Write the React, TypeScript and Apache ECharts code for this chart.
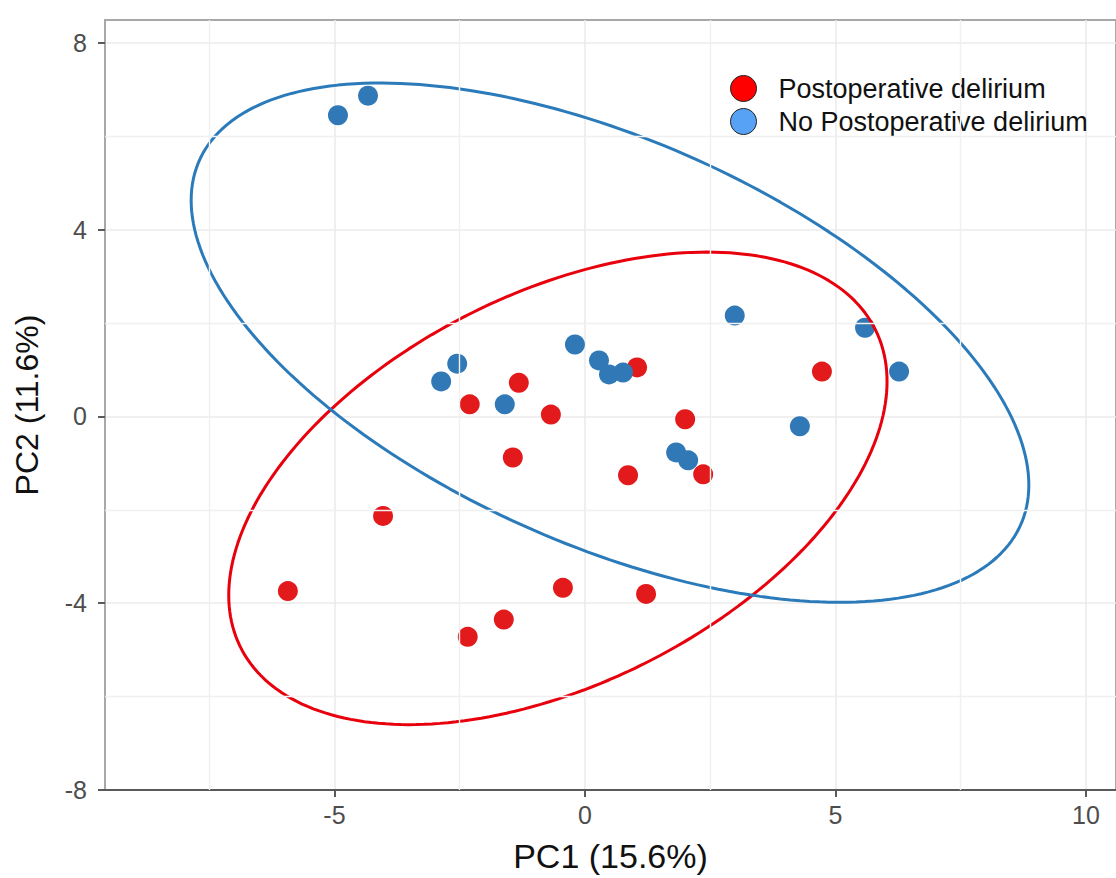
import React, { useEffect, useRef } from "react";
import * as echarts from "echarts";

// PCA scores
const podPoints: [number, number][] = [
  [1.04, 1.05], [-1.32, 0.72], [-2.3, 0.26], [-0.68, 0.04], [2.0, -0.06],
  [-1.44, -0.88], [0.86, -1.26], [2.36, -1.24], [-4.03, -2.13], [4.73, 0.96],
  [-5.93, -3.74], [-2.34, -4.72], [-1.62, -4.35], [-0.44, -3.67], [1.22, -3.8],
];
const noPodPoints: [number, number][] = [
  [-4.93, 6.45], [-4.33, 6.87], [-2.87, 0.75], [-2.55, 1.13], [-1.6, 0.26],
  [-0.2, 1.54], [0.28, 1.2], [0.48, 0.9], [0.76, 0.94], [2.99, 2.16],
  [5.59, 1.9], [6.27, 0.96], [4.29, -0.21], [1.82, -0.77], [2.06, -0.94],
];
const xTicks = [-5, 0, 5, 10];
const yTicks = [-8, -4, 0, 4, 8];
const xMinorGrid = [-7.5, -2.5, 2.5, 7.5];
const yMinorGrid = [-6, -2, 2, 6];
// confidence ellipses: centre, x half-extent, y half-extent, xy covariance term
const podEllipse = { cx: -0.54, cy: -1.54, sx: 6.57, sy: 5.06, sxy: 15.04 };
const noPodEllipse = { cx: 0.5, cy: 1.58, sx: 8.36, sy: 5.56, sxy: -25.48 };

const POD = "Postoperative delirium";
const NOPOD = "No Postoperative delirium";

function ellipsePath(e: { cx: number; cy: number; sx: number; sy: number; sxy: number }) {
  const l11 = e.sx;
  const l21 = e.sxy / e.sx;
  const l22 = Math.sqrt(e.sy * e.sy - l21 * l21);
  const pts: [number, number][] = [];
  const n = 240;
  for (let i = 0; i <= n; i++) {
    const t = (i / n) * Math.PI * 2;
    pts.push([e.cx + l11 * Math.cos(t), e.cy + l21 * Math.cos(t) + l22 * Math.sin(t)]);
  }
  return pts;
}

const FONT = "'Liberation Sans', Arial, Helvetica, sans-serif";

export default function App() {
  const ref = useRef<HTMLDivElement>(null);
  useEffect(() => {
    if (!ref.current) return;
    const chart = echarts.init(ref.current, null, { renderer: "svg" });
    const minorLines = [
      ...xMinorGrid.map((v) => ({ xAxis: v })),
      ...yMinorGrid.map((v) => ({ yAxis: v })),
    ];
    chart.setOption({
      animation: false,
      backgroundColor: "#ffffff",
      textStyle: { fontFamily: FONT },
      grid: {
        left: 105,
        top: 20,
        right: 0,
        bottom: 85,
        show: true,
        borderColor: "#a8a8a8",
        borderWidth: 2,
        backgroundColor: "transparent",
      },
      legend: {
        left: 730,
        top: 75,
        orient: "vertical",
        itemWidth: 26,
        itemHeight: 26,
        itemGap: 6,
        padding: 0,
        selectedMode: false,
        textStyle: { fontSize: 27, color: "#111111", fontFamily: FONT, padding: [0, 0, 0, 17] },
        data: [
          { name: POD, icon: "circle", itemStyle: { color: "#ff0000", borderColor: "#222222", borderWidth: 1 } },
          { name: NOPOD, icon: "circle", itemStyle: { color: "#58a2f6", borderColor: "#222222", borderWidth: 1 } },
        ],
      },
      xAxis: {
        type: "value",
        min: -9.58,
        max: 10.6,
        name: "PC1 (15.6%)",
        nameLocation: "middle",
        nameGap: 49,
        nameTextStyle: { fontSize: 34, color: "#111111", fontFamily: FONT },
        axisLine: { show: true, onZero: false, lineStyle: { color: "#5a5a5a", width: 2 } },
        axisTick: { show: true, length: 7, customValues: xTicks, lineStyle: { color: "#5a5a5a", width: 2 } },
        axisLabel: { customValues: xTicks, fontSize: 25, color: "#4d4d4d", margin: 12, fontFamily: FONT },
        splitLine: { show: true, lineStyle: { color: "#ebebeb", width: 1.6 } },
      },
      yAxis: {
        type: "value",
        min: -8,
        max: 8.49,
        name: "PC2 (11.6%)",
        nameLocation: "middle",
        nameRotate: 90,
        nameGap: 62,
        nameTextStyle: { fontSize: 32, color: "#111111", fontFamily: FONT },
        axisLine: { show: true, onZero: false, lineStyle: { color: "#a8a8a8", width: 2 } },
        axisTick: { show: true, length: 7, customValues: yTicks, lineStyle: { color: "#5a5a5a", width: 2 } },
        axisLabel: { customValues: yTicks, fontSize: 25, color: "#4d4d4d", margin: 18, fontFamily: FONT },
        splitLine: { show: true, lineStyle: { color: "#ebebeb", width: 1.6 } },
      },
      series: [
        {
          name: "minor-grid",
          type: "scatter",
          data: [],
          z: 1,
          silent: true,
          markLine: {
            silent: true,
            symbol: "none",
            label: { show: false },
            lineStyle: { color: "#f0f0f0", width: 1.4, type: "solid" },
            data: minorLines,
          },
        },
        {
          name: POD,
          type: "scatter",
          data: podPoints,
          symbol: "circle",
          symbolSize: 20,
          z: 3,
          itemStyle: { color: "#e31a1c", opacity: 1 },
        },
        {
          name: NOPOD,
          type: "scatter",
          data: noPodPoints,
          symbol: "circle",
          symbolSize: 20,
          z: 3,
          itemStyle: { color: "#3079b6", opacity: 1 },
        },
        {
          name: "ellipse-pod",
          type: "line",
          data: ellipsePath(podEllipse),
          showSymbol: false,
          symbol: "none",
          z: 4,
          silent: true,
          lineStyle: { color: "#e8000d", width: 3 },
        },
        {
          name: "ellipse-nopod",
          type: "line",
          data: ellipsePath(noPodEllipse),
          showSymbol: false,
          symbol: "none",
          z: 4,
          silent: true,
          lineStyle: { color: "#2b7bba", width: 3 },
        },
      ],
    });
    return () => chart.dispose();
  }, []);
  return (
    <div
      ref={ref}
      style={{ position: "absolute", left: 0, top: 0, width: 1116, height: 878, background: "#fff" }}
    />
  );
}
